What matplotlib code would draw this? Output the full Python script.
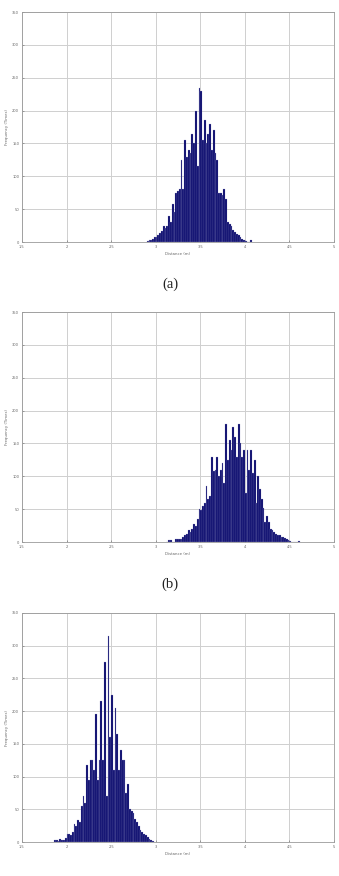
import matplotlib
matplotlib.use("Agg")
import matplotlib.pyplot as plt
import numpy as np

# ── Histogram data (bin width 0.02 m) ──
bin_w = 0.02

# (a)
centers_a = np.round(np.arange(2.91, 4.08, 0.02), 3)
counts_a = [2, 3, 3, 5, 7, 8, 10, 13, 16, 24, 22, 25, 40, 30, 58, 45, 75, 78, 80, 125,
            80, 155, 130, 140, 135, 165, 150, 200, 115, 235, 230, 155, 185, 150, 165, 180,
            140, 170, 135, 125, 75, 75, 72, 80, 65, 30, 28, 25, 18, 15, 12, 10, 7, 5, 3,
            1, 0, 0, 3]

# (b)
centers_b = np.round(np.arange(3.13, 4.62, 0.02), 3)
counts_b = [0, 3, 3, 0, 0, 4, 5, 5, 5, 8, 10, 12, 18, 15, 20, 28, 25, 35, 50, 48,
            55, 60, 85, 65, 70, 130, 108, 110, 130, 100, 110, 120, 90, 180, 125, 155,
            140, 175, 160, 130, 180, 150, 130, 140, 75, 140, 110, 140, 105, 125, 60,
            100, 80, 65, 52, 30, 40, 30, 20, 18, 15, 12, 10, 10, 8, 8, 6, 5, 3, 2, 0,
            0, 0, 0, 2]

# (c)
centers_c = np.round(np.arange(1.87, 2.98, 0.02), 3)
counts_c = [3, 3, 2, 5, 3, 3, 6, 12, 12, 10, 15, 28, 25, 33, 30, 55, 70, 60, 118, 95,
            125, 125, 110, 195, 95, 125, 215, 125, 275, 70, 315, 160, 225, 110, 205,
            165, 110, 140, 125, 125, 75, 88, 50, 48, 45, 35, 30, 25, 18, 15, 12, 10, 8,
            5, 3, 2]

x_ticks = [1.5, 2, 2.5, 3, 3.5, 4, 4.5, 5]
x_ticklabels = ["1.5", "2", "2.5", "3", "3.5", "4", "4.5", "5"]
y_ticks = [0, 50, 100, 150, 200, 250, 300, 350]

panels = [
    (centers_a, counts_a, "(a)"),
    (centers_b, counts_b, "(b)"),
    (centers_c, counts_c, ""),
]

W, H = 339, 876
fig = plt.figure(figsize=(W / 100, H / 100), dpi=100)

# axes boxes in pixels: (left, top, right, bottom)
boxes = [(22, 12, 334, 242), (22, 312, 334, 542), (22, 613, 334, 842)]

bar_color = '#05056a'
grid_color = '#cfcfcf'
tick_color = '#666666'

for (centers, counts, tag), (l, t, r, b) in zip(panels, boxes):
    n = min(len(centers), len(counts))
    ax = fig.add_axes([l / W, 1 - b / H, (r - l) / W, (b - t) / H])
    ax.bar(centers[:n], counts[:n], width=bin_w, color=bar_color,
           edgecolor='#9a9ac8', linewidth=0.18, zorder=3)
    ax.set_xlim(1.5, 5)
    ax.set_ylim(0, 350)
    ax.set_xticks(x_ticks)
    ax.set_xticklabels(x_ticklabels)
    ax.set_yticks(y_ticks)
    ax.grid(True, color=grid_color, linewidth=0.7, zorder=0)
    ax.set_axisbelow(True)
    ax.tick_params(direction='in', length=1.5, width=0.4, labelsize=2.6,
                   colors=tick_color, pad=2)
    for s in ax.spines.values():
        s.set_color('#9a9a9a')
        s.set_linewidth(0.6)
    ax.set_xlabel('Distance (m)', fontsize=2.8, color=tick_color, labelpad=2)
    ax.set_ylabel('Frequency (Times)', fontsize=2.8, color=tick_color, labelpad=2)
    if tag:
        fig.text(170 / W, 1 - (b + 42) / H, tag, ha='center', va='center',
                 fontsize=10.5, family='Liberation Serif', color='#222222')

fig.savefig('out.png', dpi=100)
